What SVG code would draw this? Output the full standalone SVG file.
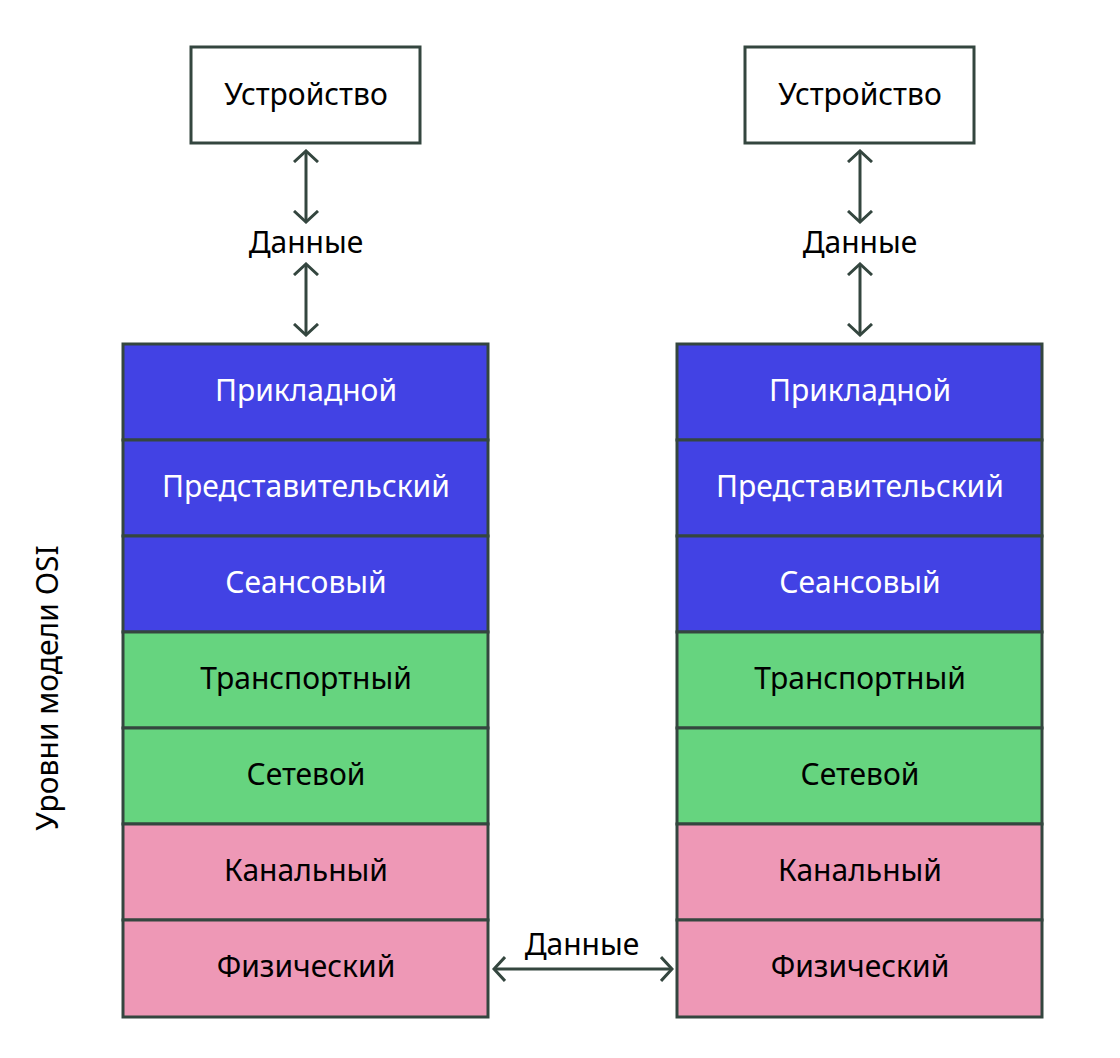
<svg xmlns="http://www.w3.org/2000/svg" width="1120" height="1058" viewBox="0 0 1120 1058">
<style>
.t{font-family:"Noto Sans","DejaVu Sans",sans-serif;font-size:30px;text-anchor:middle;dominant-baseline:central}
.w{fill:#ffffff}
.k{fill:#000000}
.box{stroke:#34463f;stroke-width:3}
.b{fill:#4242e4}
.g{fill:#66d47f}
.p{fill:#ee98b6}
.c{stroke:#34463f;stroke-width:3;fill:none}
</style>
<defs>
<marker id="ah" viewBox="0 0 14 26" refX="12" refY="13" markerWidth="14" markerHeight="26" markerUnits="userSpaceOnUse" orient="auto-start-reverse">
<path d="M1,1 L12,13 L1,25" fill="none" stroke="#34463f" stroke-width="3"/>
</marker>
</defs>
<rect width="1120" height="1058" fill="#ffffff"/>
<g id="device-left"><rect class="box" x="191" y="47" width="229" height="96" fill="#ffffff"/><text class="t k" x="306" y="93">Устройство</text></g>
<g id="device-right"><rect class="box" x="745" y="47" width="229" height="96" fill="#ffffff"/><text class="t k" x="860" y="93">Устройство</text></g>
<g id="data-left"><text class="t k" x="306" y="241">Данные</text></g>
<g id="data-right"><text class="t k" x="860" y="241">Данные</text></g>
<g id="stack-left">
<g id="l1"><rect class="box b" x="123" y="344" width="365" height="96"/><text class="t w" x="306" y="389">Прикладной</text></g>
<g id="l2"><rect class="box b" x="123" y="440" width="365" height="96"/><text class="t w" x="306" y="485">Представительский</text></g>
<g id="l3"><rect class="box b" x="123" y="536" width="365" height="96"/><text class="t w" x="306" y="581">Сеансовый</text></g>
<g id="l4"><rect class="box g" x="123" y="632" width="365" height="96"/><text class="t k" x="306" y="677">Транспортный</text></g>
<g id="l5"><rect class="box g" x="123" y="728" width="365" height="96"/><text class="t k" x="306" y="773">Сетевой</text></g>
<g id="l6"><rect class="box p" x="123" y="824" width="365" height="96"/><text class="t k" x="306" y="869">Канальный</text></g>
<g id="l7"><rect class="box p" x="123" y="920" width="365" height="97"/><text class="t k" x="306" y="965">Физический</text></g>
</g>
<g id="stack-right">
<g id="r1"><rect class="box b" x="677" y="344" width="365" height="96"/><text class="t w" x="860" y="389">Прикладной</text></g>
<g id="r2"><rect class="box b" x="677" y="440" width="365" height="96"/><text class="t w" x="860" y="485">Представительский</text></g>
<g id="r3"><rect class="box b" x="677" y="536" width="365" height="96"/><text class="t w" x="860" y="581">Сеансовый</text></g>
<g id="r4"><rect class="box g" x="677" y="632" width="365" height="96"/><text class="t k" x="860" y="677">Транспортный</text></g>
<g id="r5"><rect class="box g" x="677" y="728" width="365" height="96"/><text class="t k" x="860" y="773">Сетевой</text></g>
<g id="r6"><rect class="box p" x="677" y="824" width="365" height="96"/><text class="t k" x="860" y="869">Канальный</text></g>
<g id="r7"><rect class="box p" x="677" y="920" width="365" height="97"/><text class="t k" x="860" y="965">Физический</text></g>
</g>
<g id="osi-label"><text class="t k" transform="translate(46 688) rotate(-90)">Уровни модели OSI</text></g>
<g id="phys-data"><text class="t k" x="582" y="943">Данные</text></g>
<g id="connectors">
<line class="c" x1="306" y1="151" x2="306" y2="222" marker-start="url(#ah)" marker-end="url(#ah)"/>
<line class="c" x1="306" y1="264" x2="306" y2="335" marker-start="url(#ah)" marker-end="url(#ah)"/>
<line class="c" x1="860" y1="151" x2="860" y2="222" marker-start="url(#ah)" marker-end="url(#ah)"/>
<line class="c" x1="860" y1="264" x2="860" y2="335" marker-start="url(#ah)" marker-end="url(#ah)"/>
<line class="c" x1="494" y1="969" x2="672" y2="969" marker-start="url(#ah)" marker-end="url(#ah)"/>
</g>
</svg>
